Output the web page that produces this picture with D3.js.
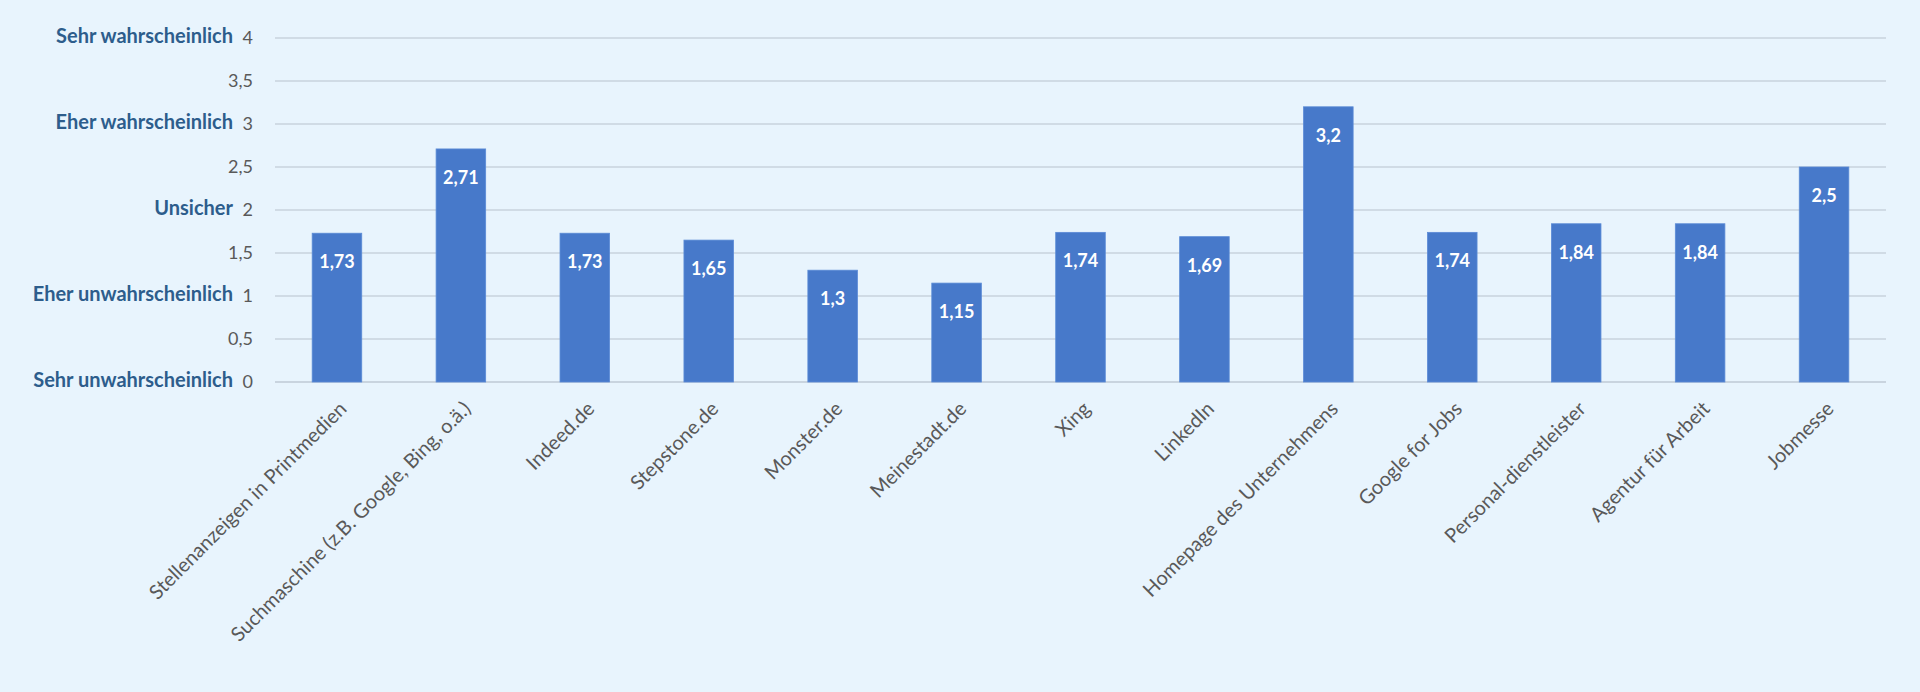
<!DOCTYPE html>
<html>
<head>
<meta charset="utf-8">
<script src="https://cdn.jsdelivr.net/npm/d3@7"></script>
<style>
  html, body { margin: 0; padding: 0; background: #e8f4fd; }
  body { width: 1920px; height: 692px; overflow: hidden; font-family: Lato, "Open Sans", sans-serif; }
  .tick line { display: none; }
  .domain { display: none; }
</style>
</head>
<body>
<script>
const categories = [
  'Stellenanzeigen in Printmedien',
  'Suchmaschine (z.B. Google, Bing, o.ä.)',
  'Indeed.de',
  'Stepstone.de',
  'Monster.de',
  'Meinestadt.de',
  'Xing',
  'LinkedIn',
  'Homepage des Unternehmens',
  'Google for Jobs',
  'Personal-dienstleister',
  'Agentur für Arbeit',
  'Jobmesse',
]
const values = [1.73, 2.71, 1.73, 1.65, 1.3, 1.15, 1.74, 1.69, 3.2, 1.74, 1.84, 1.84, 2.5]
const yTicks = [0, 0.5, 1, 1.5, 2, 2.5, 3, 3.5, 4]
const scaleLabels = [
  [0, 'Sehr unwahrscheinlich'],
  [1, 'Eher unwahrscheinlich'],
  [2, 'Unsicher'],
  [3, 'Eher wahrscheinlich'],
  [4, 'Sehr wahrscheinlich'],
]

const width = 1920, height = 692
const margin = {top: 38, right: 34, bottom: 310, left: 275}

const comma = d => String(d).replace('.', ',')

const svg = d3.select('body').append('svg')
  .attr('width', width).attr('height', height)

const x = d3.scaleBand()
  .domain(categories)
  .range([margin.left, width - margin.right])
  .paddingInner(0.6).paddingOuter(0.3)

const y = d3.scaleLinear()
  .domain([0, 4])
  .range([height - margin.bottom, margin.top])

// gridlines
svg.append('g').selectAll('line').data(yTicks).enter().append('line')
  .attr('x1', margin.left).attr('x2', width - margin.right)
  .attr('y1', d => y(d)).attr('y2', d => y(d))
  .attr('stroke', d => d === 0 ? '#bfcad4' : '#c8d3dd')
  .attr('stroke-width', 1.6)

// numeric y axis
svg.append('g')
  .attr('transform', `translate(${margin.left - 22},0)`)
  .call(d3.axisLeft(y).tickValues(yTicks).tickSize(0).tickPadding(0).tickFormat(comma))
  .selectAll('text')
  .attr('font-family', 'Lato, sans-serif')
  .attr('font-size', 18)
  .attr('fill', '#595959')

// verbal scale labels
svg.append('g').selectAll('text').data(scaleLabels).enter().append('text')
  .attr('x', margin.left - 42)
  .attr('y', d => y(d[0]) - 2)
  .attr('dy', '0.35em')
  .attr('text-anchor', 'end')
  .attr('font-size', 20)
  .attr('font-weight', 'bold')
  .attr('fill', '#2d5d8c')
  .text(d => d[1])

// bars
svg.append('g').selectAll('rect').data(values).enter().append('rect')
  .attr('x', (d, i) => x(categories[i]))
  .attr('width', x.bandwidth())
  .attr('y', d => y(d))
  .attr('height', d => y(0) - y(d))
  .attr('fill', '#4779ca')
  .attr('stroke', '#5b8bd6')
  .attr('stroke-width', 0.8)

// value labels
svg.append('g').selectAll('text').data(values).enter().append('text')
  .attr('x', (d, i) => x(categories[i]) + x.bandwidth() / 2)
  .attr('y', d => y(d) + 35)
  .attr('text-anchor', 'middle')
  .attr('font-size', 18)
  .attr('font-weight', 'bold')
  .attr('fill', '#ffffff')
  .text(comma)

// category labels
svg.append('g').selectAll('text').data(categories).enter().append('text')
  .attr('transform', d => `translate(${x(d) + x.bandwidth() / 2 + 1},${y(0) + 18}) rotate(-45)`)
  .attr('dy', '0.71em')
  .attr('text-anchor', 'end')
  .attr('font-size', 20)
  .attr('fill', '#595959')
  .text(d => d)
</script>
</body>
</html>
